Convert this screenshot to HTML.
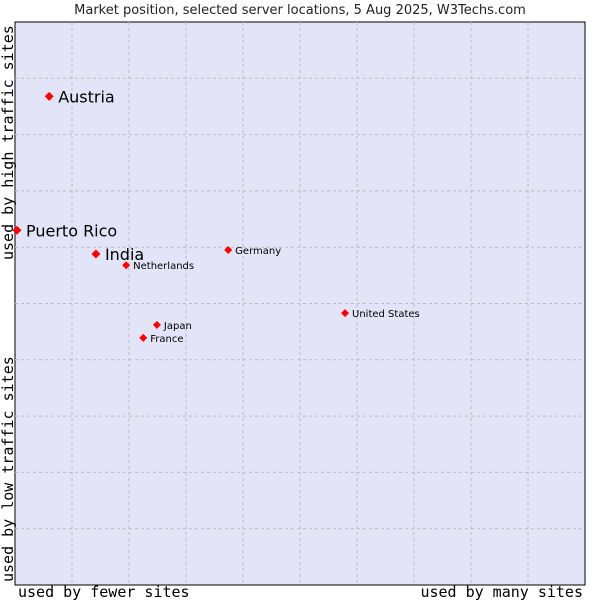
<!DOCTYPE html>
<html><head><meta charset="utf-8"><style>
body{margin:0;background:#fff;font-family:"DejaVu Sans","Liberation Sans",sans-serif}
</style></head><body>
<svg width="600" height="600" id="c">
<text x="300" y="14" text-anchor="middle" font-size="13" fill="#222" font-family="DejaVu Sans, sans-serif">Market position, selected server locations, 5 Aug 2025, W3Techs.com</text>
<rect x="15" y="22" width="570" height="563" fill="#e4e4f8" stroke="#000" stroke-width="1"/>
<g id="grid"></g>
<g id="pts"></g>
<text x="18" y="597" font-size="15" font-family="DejaVu Sans Mono, monospace" fill="#000">used by fewer sites</text>
<text x="583" y="597" text-anchor="end" font-size="15" font-family="DejaVu Sans Mono, monospace" fill="#000">used by many sites</text>
<text transform="translate(13,582) rotate(-90)" font-size="15" font-family="DejaVu Sans Mono, monospace" fill="#000">used by low traffic sites</text>
<text transform="translate(13,260) rotate(-90)" font-size="15" font-family="DejaVu Sans Mono, monospace" fill="#000">used by high traffic sites</text>
</svg>
<script>
const names=["Austria","Puerto Rico","India","Netherlands","Germany","United States","Japan","France"];
const xs=[6,0.35,14.2,19.5,37.4,57.9,24.9,22.5];
const ys=[86.8,63,58.8,56.8,59.5,48.3,46.2,43.9];
const big=[true,true,true,false,false,false,false,false];
const L=15,T=22,W=570,H=563;
const sx=v=>L+v/100*W, sy=v=>T+H-v/100*H;
const ns="http://www.w3.org/2000/svg";
const g=document.getElementById('grid'),p=document.getElementById('pts');
for(let i=1;i<10;i++){
 let a=document.createElementNS(ns,'line');
 
 
 a.setAttribute('x1',sx(i*10));a.setAttribute('x2',sx(i*10));a.setAttribute('y1',T);a.setAttribute('y2',T+H);
 a.setAttribute('stroke','#bbb');a.setAttribute('stroke-dasharray','3,3');g.appendChild(a);
 let b=document.createElementNS(ns,'line');
 
 
 b.setAttribute('y1',sy(i*10));b.setAttribute('y2',sy(i*10));b.setAttribute('x1',L);b.setAttribute('x2',L+W);
 b.setAttribute('stroke','#bbb');b.setAttribute('stroke-dasharray','3,3');g.appendChild(b);
}
names.forEach((n,i)=>{
 const x=sx(xs[i]),y=sy(ys[i]);
 const r=big[i]?4.5:4;
 let c=document.createElementNS(ns,'polygon');
 
 
 c.setAttribute('points',`${x},${y-r} ${x+r},${y} ${x},${y+r} ${x-r},${y}`);c.setAttribute('fill','#f00');p.appendChild(c);
 let t=document.createElementNS(ns,'text');
 
 
 t.setAttribute('x',x+(big[i]?9:7));t.setAttribute('y',y+(big[i]?6:4));
 t.setAttribute('font-size',big[i]?16:10);t.setAttribute('fill','#000');t.textContent=n;p.appendChild(t);
});
</script>
</body></html>
